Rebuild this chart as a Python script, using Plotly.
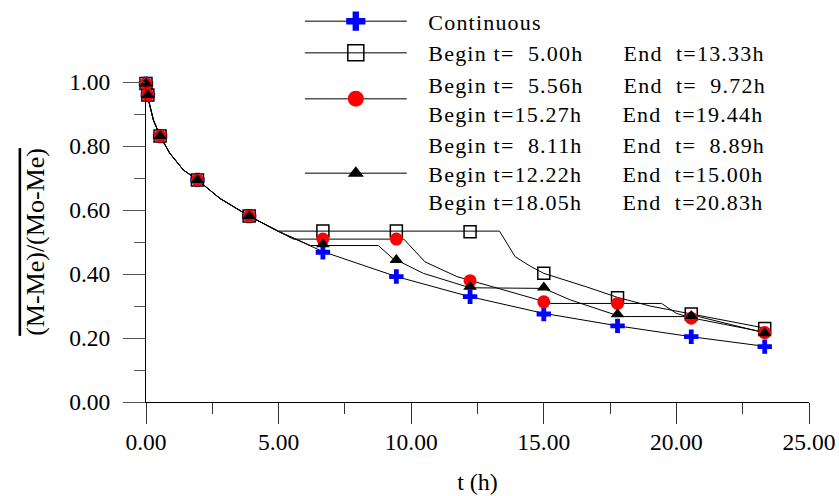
import plotly.graph_objects as go

# ---- measured points (markers) ----
t_data = [0.0, 0.07, 0.53, 1.94, 3.89, 6.67, 9.44, 12.22, 15.00, 17.78, 20.56, 23.33]
y_cont = [0.995, 0.959, 0.831, 0.694, 0.581, 0.468, 0.392, 0.329, 0.275, 0.238, 0.204, 0.173]
y_sq   = [0.995, 0.959, 0.831, 0.694, 0.581, 0.534, 0.534, 0.532, 0.402, 0.326, 0.275, 0.230]
y_red  = [0.995, 0.959, 0.831, 0.694, 0.581, 0.509, 0.509, 0.379, 0.313, 0.308, 0.262, 0.217]
y_tri  = [0.995, 0.959, 0.831, 0.694, 0.581, 0.493, 0.444, 0.360, 0.358, 0.274, 0.269, 0.215]

# ---- model curves ----
t_early = [0.0, 0.07, 0.125, 0.28, 0.40, 0.53, 0.90, 1.41, 1.94, 2.79, 3.89, 5.00]
v_early = [1.000, 0.959, 0.933, 0.881, 0.855, 0.831, 0.777, 0.725, 0.694, 0.636, 0.581, 0.533]

t_cont_line = [6.67, 9.44, 12.22, 15.00, 17.78, 20.56, 23.33]
v_cont_line = [0.470, 0.392, 0.329, 0.277, 0.238, 0.204, 0.174]

t_sq_line = [5.00, 13.33, 13.92, 14.48, 15.00, 16.60, 17.78, 19.00, 20.56, 23.33]
v_sq_line = [0.534, 0.534, 0.454, 0.425, 0.402, 0.360, 0.327, 0.300, 0.276, 0.231]

t_red_line = [5.56, 9.72, 10.52, 11.72, 12.22, 14.10, 15.00, 15.27, 19.44, 20.00, 20.56, 23.33]
v_red_line = [0.509, 0.509, 0.438, 0.392, 0.380, 0.334, 0.313, 0.308, 0.308, 0.277, 0.263, 0.218]

t_tri_line = [6.20, 8.76, 9.30, 9.44, 10.46, 12.22, 15.00, 16.00, 17.78, 18.05, 20.83, 23.33]
v_tri_line = [0.489, 0.489, 0.449, 0.444, 0.402, 0.357, 0.355, 0.319, 0.270, 0.267, 0.267, 0.216]

x_ticks = [0, 5, 10, 15, 20, 25]
y_ticks = [0, 0.2, 0.4, 0.6, 0.8, 1.0]

NB = "\u00a0"
GAP = NB * 3
MID = NB * 6


def wide(s):
    return '<span style="letter-spacing:1.2px">' + s + '</span>'


legend_lines = [
    ["Continuous"],
    ["Begin t=" + NB * 2 + "5.00h" + MID + "End" + NB * 2 + "t=13.33h"],
    ["Begin t=" + NB * 2 + "5.56h" + MID + "End" + NB * 2 + "t=" + NB * 2 + "9.72h",
     "Begin t=15.27h" + MID + "End" + NB * 2 + "t=19.44h"],
    ["Begin t=" + NB * 2 + "8.11h" + MID + "End" + NB * 2 + "t=" + NB * 2 + "8.89h",
     "Begin t=12.22h" + MID + "End" + NB * 2 + "t=15.00h",
     "Begin t=18.05h" + MID + "End" + NB * 2 + "t=20.83h"],
]
names = ["<br>".join(GAP + wide(s) for s in ls) for ls in legend_lines]

FONT = "Liberation Serif, Times New Roman, serif"
LINE = dict(color="black", width=1)

fig = go.Figure()

lines = [
    (t_early + t_cont_line, v_early + v_cont_line),
    (t_early + t_sq_line, v_early + v_sq_line),
    (t_early + t_red_line, v_early + v_red_line),
    (t_early + t_tri_line, v_early + v_tri_line),
]
for tx, vy in lines:
    fig.add_trace(go.Scatter(x=tx, y=vy, mode="lines", line=LINE,
                             showlegend=False, hoverinfo="skip"))

markers = [
    (y_cont, dict(symbol="cross", color="#0000ff", size=12, line=dict(width=0))),
    (y_sq, dict(symbol="square-open", color="black", size=12, line=dict(width=1.5))),
    (y_red, dict(symbol="circle", color="#ff0000", size=13, line=dict(width=0))),
    (y_tri, dict(symbol="triangle-up", color="black", size=12, line=dict(width=0))),
]
for vy, mk in markers:
    fig.add_trace(go.Scatter(x=t_data, y=vy, mode="markers", marker=mk,
                             showlegend=False, cliponaxis=False))

legend_markers = [
    dict(symbol="cross", color="#0000ff", size=16, line=dict(width=0)),
    dict(symbol="square-open", color="black", size=16, line=dict(width=1.5)),
    dict(symbol="circle", color="#ff0000", size=16, line=dict(width=0)),
    dict(symbol="triangle-up", color="black", size=14, line=dict(width=0)),
]
for nm, mk in zip(names, legend_markers):
    fig.add_trace(go.Scatter(x=[None], y=[None], mode="lines+markers", name=nm,
                             marker=mk, line=dict(color="#555555", width=1.5)))

fig.update_layout(
    width=839, height=496,
    margin=dict(l=146, r=30, t=82, b=94, autoexpand=False),
    paper_bgcolor="white", plot_bgcolor="white",
    font=dict(family=FONT, size=22, color="black"),
    legend=dict(x=0.232, y=1.255, xanchor="left", yanchor="top",
                bgcolor="rgba(0,0,0,0)", itemwidth=102,
                font=dict(family=FONT, size=22, color="black"),
                tracegroupgap=0),
    xaxis=dict(range=[0, 25], tickvals=x_ticks, tickformat=".2f",
               ticks="outside", ticklen=21, tickcolor="#333", tickwidth=1,
               minor=dict(dtick=2.5, ticks="outside", ticklen=11, tickcolor="#333"),
               showline=True, linecolor="black", linewidth=1,
               showgrid=False, zeroline=False, automargin=False,
               ticklabeloverflow="allow", ticklabelstandoff=-2,
               tickfont=dict(size=23.5),
               title=dict(text="t (h)", font=dict(size=24), standoff=18)),
    yaxis=dict(range=[0, 1], tickvals=y_ticks, tickformat=".2f",
               ticks="outside", ticklen=22, tickcolor="#555", tickwidth=1,
               minor=dict(dtick=0.1, ticks="outside", ticklen=11, tickcolor="#555"),
               showline=True, linecolor="black", linewidth=1,
               showgrid=False, zeroline=False, automargin=False,
               ticklabeloverflow="allow", ticklabelstandoff=8,
               tickfont=dict(size=23.5),
               title=dict(text='<span style="text-decoration:overline">(M-Me)/(Mo-Me)</span>',
                          font=dict(size=26), standoff=17)),
)

fig.write_html("out.html", config={"displayModeBar": False},
               post_script="document.body.style.margin='0';")
